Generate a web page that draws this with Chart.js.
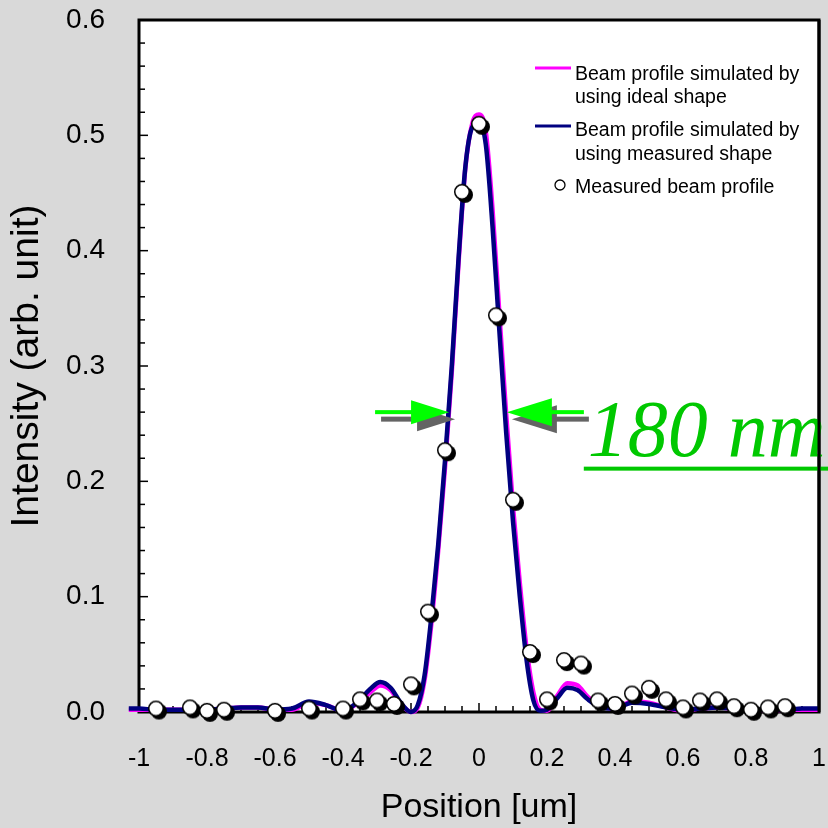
<!DOCTYPE html>
<html>
<head>
<meta charset="utf-8">
<script src="https://cdn.jsdelivr.net/npm/chart.js@4.4.1/dist/chart.umd.min.js"></script>
<style>
  html, body { margin: 0; padding: 0; background: #d9d9d9; }
  #wrap { width: 828px; height: 828px; }
</style>
</head>
<body>
<div id="wrap"><canvas id="beamChart" width="828" height="828"></canvas></div>
<script>
// measured beam profile (circles)
const measuredX = [-0.95, -0.85, -0.8, -0.75, -0.6, -0.5, -0.4, -0.35, -0.3, -0.25, -0.2, -0.15, -0.1, -0.05, 0, 0.05, 0.1, 0.15, 0.2, 0.25, 0.3, 0.35, 0.4, 0.45, 0.5, 0.55, 0.6, 0.65, 0.7, 0.75, 0.8, 0.85, 0.9]
const measuredY = [0.003, 0.004, 0.001, 0.002, 0.001, 0.003, 0.003, 0.011, 0.010, 0.007, 0.024, 0.087, 0.227, 0.451, 0.510, 0.344, 0.184, 0.052, 0.011, 0.045, 0.042, 0.010, 0.007, 0.016, 0.021, 0.011, 0.004, 0.010, 0.011, 0.005, 0.002, 0.004, 0.005]

// simulated curves, sampled along the same positions
const curveX = [-1.03, -1, -0.95, -0.9, -0.85, -0.8, -0.75, -0.7, -0.65, -0.6, -0.55, -0.5, -0.45, -0.4, -0.36, -0.32, -0.29, -0.26, -0.23, -0.2, -0.18, -0.16, -0.14, -0.12, -0.1, -0.08, -0.06, -0.04, -0.02, 0, 0.02, 0.04, 0.06, 0.08, 0.1, 0.12, 0.14, 0.16, 0.18, 0.2, 0.23, 0.26, 0.29, 0.32, 0.36, 0.4, 0.45, 0.5, 0.55, 0.6, 0.65, 0.7, 0.75, 0.8, 0.85, 0.9, 0.95, 1, 1.02]
const idealY = [0.002, 0.002, 0.002, 0.002, 0.002, 0.002, 0.003, 0.004, 0.004, 0.002, 0.002, 0.008, 0.006, 0.001, 0.007, 0.017, 0.023, 0.019, 0.007, 0.000, 0.004, 0.028, 0.077, 0.140, 0.212, 0.295, 0.390, 0.472, 0.510, 0.518, 0.503, 0.435, 0.345, 0.258, 0.178, 0.112, 0.055, 0.017, 0.002, 0.001, 0.014, 0.025, 0.023, 0.013, 0.005, 0.003, 0.009, 0.008, 0.004, 0.001, 0.003, 0.004, 0.003, 0.001, 0.001, 0.002, 0.002, 0.002, 0.002]
const measuredShapeY = [0.003, 0.003, 0.002, 0.002, 0.002, 0.002, 0.003, 0.004, 0.004, 0.002, 0.003, 0.009, 0.006, 0.001, 0.008, 0.020, 0.026, 0.021, 0.008, 0.000, 0.006, 0.032, 0.083, 0.145, 0.218, 0.300, 0.394, 0.473, 0.507, 0.511, 0.492, 0.420, 0.330, 0.242, 0.165, 0.100, 0.045, 0.010, 0.001, 0.002, 0.012, 0.021, 0.019, 0.011, 0.004, 0.003, 0.008, 0.007, 0.004, 0.002, 0.003, 0.004, 0.003, 0.002, 0.002, 0.002, 0.003, 0.003, 0.003]

const seriesLabels = [
	['Beam profile simulated by', 'using ideal shape'],
	['Beam profile simulated by', 'using measured shape'],
	['Measured beam profile'],
]

// FWHM marker (data coords)
const fwhmLevel = 0.26
const fwhmLeft = -0.088
const fwhmRight = 0.082
const fwhmText = '180 nm'

const toPoints = (xs, ys) => xs.map((x, i) => ({ x: x, y: ys[i] }))

Chart.defaults.font.family = '"Liberation Sans", Arial, sans-serif'
Chart.defaults.color = '#000'

// open circle with a hard black drop shadow, used as point style
function shadowedCircle() {
	const c = document.createElement('canvas')
	c.width = 28
	c.height = 28
	const g = c.getContext('2d')
	g.fillStyle = '#000'
	g.beginPath()
	g.arc(17, 17, 8, 0, Math.PI * 2)
	g.fill()
	g.beginPath()
	g.arc(14, 14, 7.25, 0, Math.PI * 2)
	g.fillStyle = '#fff'
	g.fill()
	g.lineWidth = 1.5
	g.strokeStyle = '#000'
	g.stroke()
	return c
}

const frame = {
	id: 'frame',
	beforeDraw(chart) {
		const { ctx, chartArea: a } = chart
		ctx.save()
		ctx.fillStyle = '#d9d9d9'
		ctx.fillRect(0, 0, chart.width, chart.height)
		ctx.fillStyle = '#ffffff'
		ctx.fillRect(a.left, a.top, a.right - a.left, a.bottom - a.top)
		ctx.restore()
	},
	beforeDatasetsDraw(chart) {
		const { ctx, chartArea: a, scales } = chart
		ctx.save()
		ctx.strokeStyle = '#000'
		ctx.lineWidth = 1.5
		scales.x.ticks.forEach((t, i) => {
			const px = scales.x.getPixelForTick(i)
			const len = t.label ? 9 : 6
			ctx.beginPath()
			ctx.moveTo(px, a.bottom)
			ctx.lineTo(px, a.bottom - len)
			ctx.stroke()
		})
		scales.y.ticks.forEach((t, i) => {
			const py = scales.y.getPixelForTick(i)
			const len = t.label ? 9 : 6
			ctx.beginPath()
			ctx.moveTo(a.left, py)
			ctx.lineTo(a.left + len, py)
			ctx.stroke()
		})
		ctx.lineWidth = 3
		ctx.strokeRect(a.left, a.top, a.right - a.left, a.bottom - a.top)
		ctx.restore()
	},
}

function drawArrow(ctx, tipX, tipY, dir, headLen, headHalf, shaftLen, shaftW) {
	ctx.beginPath()
	ctx.moveTo(tipX, tipY)
	ctx.lineTo(tipX - dir * headLen, tipY - headHalf)
	ctx.lineTo(tipX - dir * headLen, tipY + headHalf)
	ctx.closePath()
	ctx.fill()
	const x0 = tipX - dir * (headLen - 1)
	const x1 = tipX - dir * (headLen + shaftLen)
	ctx.fillRect(Math.min(x0, x1), tipY - shaftW / 2, Math.abs(x1 - x0), shaftW)
}

const annotations = {
	id: 'annotations',
	afterDatasetsDraw(chart) {
		const { ctx, chartArea: a, scales } = chart
		const xs = scales.x
		const ys = scales.y
		ctx.save()

		// FWHM arrows with grey drop shadow
		const ly = ys.getPixelForValue(fwhmLevel)
		const lx = xs.getPixelForValue(fwhmLeft)
		const rx = xs.getPixelForValue(fwhmRight)
		ctx.fillStyle = '#646464'
		drawArrow(ctx, lx + 6, ly + 7, 1, 38, 12, 36, 5)
		drawArrow(ctx, rx + 5, ly + 7, -1, 45, 14, 32, 5)
		ctx.fillStyle = '#00ff00'
		drawArrow(ctx, lx, ly, 1, 38, 12, 36, 4)
		drawArrow(ctx, rx, ly, -1, 45, 14, 32, 4)

		// 180 nm label
		const tx = xs.getPixelForValue(0.32)
		const tb = ys.getPixelForValue(0.222)
		ctx.fillStyle = '#00c800'
		ctx.font = 'italic 80px "Liberation Serif", "Times New Roman", serif'
		ctx.textBaseline = 'alphabetic'
		ctx.textAlign = 'left'
		ctx.fillText(fwhmText, tx, tb)
		const uy = ys.getPixelForValue(0.211)
		ctx.fillRect(tx - 4, uy - 2, chart.width - tx + 4, 4)

		// right frame line sits over the label
		ctx.strokeStyle = '#000'
		ctx.lineWidth = 3
		ctx.beginPath()
		ctx.moveTo(a.right, a.top)
		ctx.lineTo(a.right, a.bottom)
		ctx.stroke()

		// legend
		const lgX = a.right - 284
		const lgY = a.top
		ctx.font = '19.5px "Liberation Sans", Arial, sans-serif'
		ctx.fillStyle = '#000'
		const ds = chart.data.datasets
		const rows = [
			{ mark: 68, base: [80, 103] },
			{ mark: 126, base: [136, 160] },
			{ mark: 185, base: [193] },
		]
		rows.forEach((r, i) => {
			const d = ds[i]
			const my = r.mark - 20 + lgY
			if (d.showLine) {
				ctx.strokeStyle = d.borderColor
				ctx.lineWidth = 3
				ctx.beginPath()
				ctx.moveTo(lgX, my)
				ctx.lineTo(lgX + 36, my)
				ctx.stroke()
			} else {
				ctx.beginPath()
				ctx.arc(lgX + 25, my, 5, 0, Math.PI * 2)
				ctx.fillStyle = '#fff'
				ctx.fill()
				ctx.strokeStyle = '#000'
				ctx.lineWidth = 1.3
				ctx.stroke()
			}
			ctx.fillStyle = '#000'
			seriesLabels[i].forEach((line, j) => {
				ctx.fillText(line, lgX + 40, r.base[j] - 20 + lgY)
			})
		})
		ctx.restore()
	},
}

const ctx = document.getElementById('beamChart').getContext('2d')
const beamChart = new Chart(ctx, {
	type: 'scatter',
	data: {
		datasets: [
			{
				label: seriesLabels[0].join(' '),
				data: toPoints(curveX, idealY),
				showLine: true,
				borderColor: '#ff00ff',
				borderWidth: 4.5,
				pointRadius: 0,
				cubicInterpolationMode: 'monotone',
				clip: false,
				order: 2,
			},
			{
				label: seriesLabels[1].join(' '),
				data: toPoints(curveX, measuredShapeY),
				showLine: true,
				borderColor: '#000080',
				borderWidth: 4.5,
				pointRadius: 0,
				cubicInterpolationMode: 'monotone',
				clip: false,
				order: 1,
			},
			{
				label: seriesLabels[2][0],
				data: toPoints(measuredX, measuredY),
				showLine: false,
				pointStyle: shadowedCircle(),
				pointRadius: 8,
				clip: false,
				order: 0,
			},
		],
	},
	options: {
		responsive: false,
		animation: false,
		devicePixelRatio: 1,
		layout: { padding: { top: 20, right: 6, left: 0, bottom: 0 } },
		plugins: {
			legend: { display: false },
			tooltip: { enabled: false },
		},
		scales: {
			x: {
				type: 'linear',
				min: -1,
				max: 1,
				afterFit: (scale) => {
					scale.height = 116
					scale.paddingLeft = 0
					scale.paddingRight = 0
				},
				grid: { display: false, drawTicks: false },
				border: { display: false },
				ticks: {
					stepSize: 0.05,
					autoSkip: false,
					maxRotation: 0,
					padding: 32,
					font: { size: 25 },
					callback: (value) => {
						const v = Math.round(value * 100) / 100
						return Math.abs(v * 5 - Math.round(v * 5)) < 1e-6 ? String(v) : ''
					},
				},
				title: {
					display: true,
					text: 'Position [um]',
					font: { size: 34 },
					padding: 0,
				},
			},
			y: {
				min: 0,
				max: 0.6,
				afterFit: (scale) => {
					scale.width = 139
					scale.paddingTop = 0
					scale.paddingBottom = 0
				},
				grid: { display: false, drawTicks: false },
				border: { display: false },
				ticks: {
					stepSize: 0.02,
					autoSkip: false,
					padding: 34,
					font: { size: 28 },
					callback: (value) => {
						const v = Math.round(value * 100) / 100
						return Math.abs(v * 10 - Math.round(v * 10)) < 1e-6 ? v.toFixed(1) : ''
					},
				},
				title: {
					display: true,
					text: 'Intensity (arb. unit)',
					font: { size: 39 },
					padding: { top: 4, bottom: 0 },
				},
			},
		},
	},
	plugins: [frame, annotations],
})
</script>
</body>
</html>
